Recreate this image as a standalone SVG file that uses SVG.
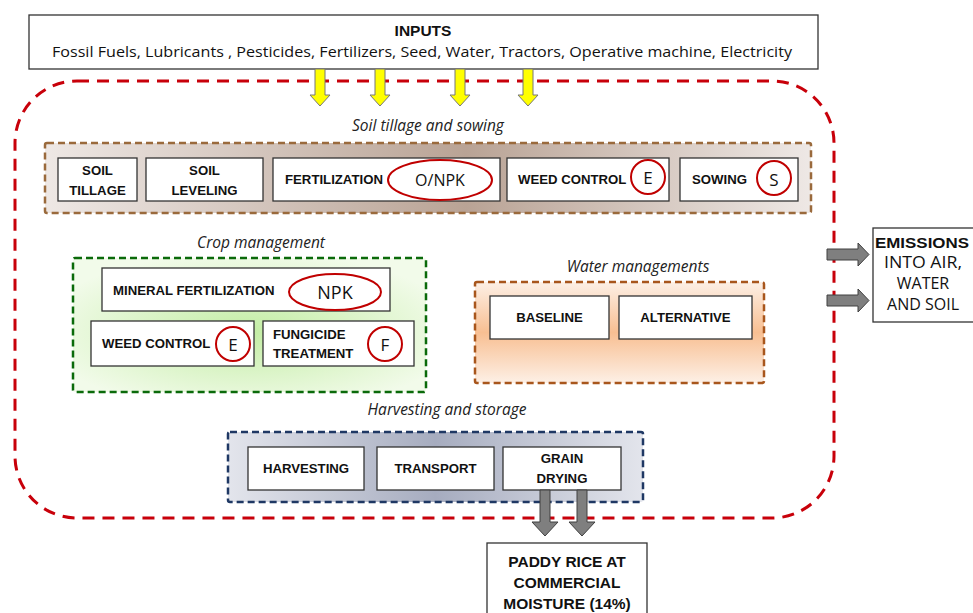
<svg xmlns="http://www.w3.org/2000/svg" width="973" height="613" viewBox="0 0 973 613">
<style>
.box{fill:#fff;stroke:#333;stroke-width:1.3}
.t{font-family:"Open Sans","Liberation Sans",sans-serif;fill:#111}
.b{font-family:"Liberation Sans",sans-serif;font-weight:bold;font-size:13.2px;fill:#111}
.it{font-family:"Open Sans","Liberation Sans",sans-serif;font-style:italic;font-size:15.5px;fill:#222}
.ring{fill:none;stroke:#c00000;stroke-width:2}
.sym{font-family:"Open Sans","Liberation Sans",sans-serif;font-size:17px;fill:#111}
.ya{fill:#ffff00;stroke:#777;stroke-width:1}
.ga{fill:#7f7f7f;stroke:#404040;stroke-width:1}
</style>
<defs>
<linearGradient id="gBrown" x1="0" y1="0" x2="1" y2="0">
<stop offset="0" stop-color="#eee8e5"/><stop offset="0.55" stop-color="#b9a395"/><stop offset="1" stop-color="#eee8e5"/>
</linearGradient>
<radialGradient id="gGreen" cx="0.5" cy="0.55" r="0.6">
<stop offset="0" stop-color="#c3eda4"/><stop offset="1" stop-color="#f2fbea"/>
</radialGradient>
<linearGradient id="gOrange" x1="0" y1="0" x2="0" y2="1">
<stop offset="0" stop-color="#fdf0e6"/><stop offset="0.5" stop-color="#f8bf92"/><stop offset="1" stop-color="#fdf0e6"/>
</linearGradient>
<linearGradient id="gBlue" x1="0" y1="0" x2="1" y2="0">
<stop offset="0" stop-color="#e3e5ec"/><stop offset="0.5" stop-color="#a6acbf"/><stop offset="1" stop-color="#e3e5ec"/>
</linearGradient>
</defs>
<rect width="973" height="613" fill="#fff"/>

<g id="inputs">
<rect class="box" x="29" y="15" width="789" height="54"/>
<text class="b" x="423" y="36" text-anchor="middle" style="font-size:15.5px">INPUTS</text>
<text class="t" x="422" y="57" text-anchor="middle" font-size="15" textLength="740" lengthAdjust="spacingAndGlyphs">Fossil Fuels, Lubricants , Pesticides, Fertilizers, Seed, Water, Tractors, Operative machine, Electricity</text>
</g>

<g id="system-boundary">
<rect x="15" y="81" width="819" height="437" rx="62" fill="none" stroke="#c8000a" stroke-width="3" stroke-dasharray="12 8"/>
</g>

<g id="soil-tillage-and-sowing">
<text class="it" x="428" y="131" text-anchor="middle">Soil tillage and sowing</text>
<rect x="45" y="143" width="766" height="70" rx="2" fill="url(#gBrown)" stroke="#9a6a3c" stroke-width="2.5" stroke-dasharray="7 4"/>
<g id="soil-tillage"><rect class="box" x="58" y="158" width="79" height="43"/>
<text class="b" x="97.5" y="175" text-anchor="middle">SOIL</text><text class="b" x="97.5" y="195" text-anchor="middle">TILLAGE</text></g>
<g id="soil-leveling"><rect class="box" x="146" y="158" width="117" height="43"/>
<text class="b" x="204.5" y="175" text-anchor="middle">SOIL</text><text class="b" x="204.5" y="195" text-anchor="middle">LEVELING</text></g>
<g id="fertilization"><rect class="box" x="273" y="158" width="227" height="43"/>
<text class="b" x="285" y="184">FERTILIZATION</text>
<ellipse class="ring" cx="440" cy="180" rx="52" ry="20"/>
<text class="sym" x="440" y="186" text-anchor="middle" style="font-size:16px">O/NPK</text></g>
<g id="weed-control-1"><rect class="box" x="507" y="158" width="162" height="43"/>
<text class="b" x="518" y="184">WEED CONTROL</text>
<circle class="ring" cx="648" cy="177" r="17"/>
<text class="sym" x="648" y="184" text-anchor="middle">E</text></g>
<g id="sowing"><rect class="box" x="680" y="158" width="118" height="43"/>
<text class="b" x="692" y="184">SOWING</text>
<circle class="ring" cx="774" cy="178" r="17"/>
<text class="sym" x="774" y="186" text-anchor="middle">S</text></g>
</g>

<g id="crop-management">
<text class="it" x="261" y="248" text-anchor="middle">Crop management</text>
<rect x="73" y="258" width="353" height="134" rx="2" fill="url(#gGreen)" stroke="#0a6a0a" stroke-width="2.5" stroke-dasharray="7 4"/>
<g id="mineral-fertilization"><rect class="box" x="102" y="268" width="288" height="43"/>
<text class="b" x="113" y="295">MINERAL FERTILIZATION</text>
<ellipse class="ring" cx="335" cy="292" rx="46" ry="18"/>
<text class="sym" x="335" y="299" text-anchor="middle" style="font-size:18px">NPK</text></g>
<g id="weed-control-2"><rect class="box" x="91" y="321" width="163" height="45"/>
<text class="b" x="102" y="348">WEED CONTROL</text>
<circle class="ring" cx="233" cy="344" r="17"/>
<text class="sym" x="233" y="351" text-anchor="middle">E</text></g>
<g id="fungicide-treatment"><rect class="box" x="263" y="321" width="151" height="45"/>
<text class="b" x="273" y="339">FUNGICIDE</text><text class="b" x="273" y="358">TREATMENT</text>
<circle class="ring" cx="385" cy="344" r="17"/>
<text class="sym" x="385" y="351" text-anchor="middle">F</text></g>
</g>

<g id="water-managements">
<text class="it" x="638" y="272" text-anchor="middle">Water managements</text>
<rect x="475" y="282" width="289" height="101" rx="2" fill="url(#gOrange)" stroke="#a8561c" stroke-width="2.5" stroke-dasharray="7 4"/>
<g id="baseline"><rect class="box" x="490" y="296" width="119" height="43"/>
<text class="b" x="549.5" y="322" text-anchor="middle">BASELINE</text></g>
<g id="alternative"><rect class="box" x="619" y="296" width="133" height="43"/>
<text class="b" x="685.5" y="322" text-anchor="middle">ALTERNATIVE</text></g>
</g>

<g id="harvesting-and-storage">
<text class="it" x="447" y="415" text-anchor="middle">Harvesting and storage</text>
<rect x="228" y="432" width="415" height="70" rx="2" fill="url(#gBlue)" stroke="#1f3864" stroke-width="2.5" stroke-dasharray="7 4"/>
<g id="harvesting"><rect class="box" x="248" y="447" width="116" height="43"/>
<text class="b" x="306" y="473" text-anchor="middle">HARVESTING</text></g>
<g id="transport"><rect class="box" x="377" y="447" width="117" height="43"/>
<text class="b" x="435.5" y="473" text-anchor="middle">TRANSPORT</text></g>
<g id="grain-drying"><rect class="box" x="503" y="447" width="118" height="43"/>
<text class="b" x="562" y="463" text-anchor="middle">GRAIN</text><text class="b" x="562" y="483" text-anchor="middle">DRYING</text></g>
</g>

<g id="emissions">
<rect class="box" x="873" y="228" width="104" height="94"/>
<text class="b" x="922" y="248" text-anchor="middle" style="font-size:15.5px" textLength="94" lengthAdjust="spacingAndGlyphs">EMISSIONS</text>
<text class="t" x="923" y="268" text-anchor="middle" font-size="16" textLength="78" lengthAdjust="spacingAndGlyphs">INTO AIR,</text>
<text class="t" x="923" y="289" text-anchor="middle" font-size="16">WATER</text>
<text class="t" x="923" y="310" text-anchor="middle" font-size="16">AND SOIL</text>
</g>

<g id="paddy-rice">
<rect class="box" x="487" y="543" width="160" height="75"/>
<text class="b" x="567" y="567" text-anchor="middle" style="font-size:15.5px">PADDY RICE AT</text>
<text class="b" x="567" y="588" text-anchor="middle" style="font-size:15.5px">COMMERCIAL</text>
<text class="b" x="567" y="609" text-anchor="middle" style="font-size:15.5px">MOISTURE (14%)</text>
</g>

<g id="connectors">
<polygon class="ya" points="315,69 325,69 325,95 330,95 320,106 310,95 315,95"/>
<polygon class="ya" points="375,69 385,69 385,95 390,95 380,106 370,95 375,95"/>
<polygon class="ya" points="455,69 465,69 465,95 470,95 460,106 450,95 455,95"/>
<polygon class="ya" points="523,69 533,69 533,95 538,95 528,106 518,95 523,95"/>
<polygon class="ga" points="827,249 858,249 858,243 869,254.5 858,266 858,260 827,260"/>
<polygon class="ga" points="827,295 858,295 858,289 869,300.5 858,312 858,306 827,306"/>
<polygon class="ga" points="540,490 550,490 550,522 558,522 545,536 532,522 540,522"/>
<polygon class="ga" points="577,490 587,490 587,522 595,522 582,536 569,522 577,522"/>
</g>
</svg>
